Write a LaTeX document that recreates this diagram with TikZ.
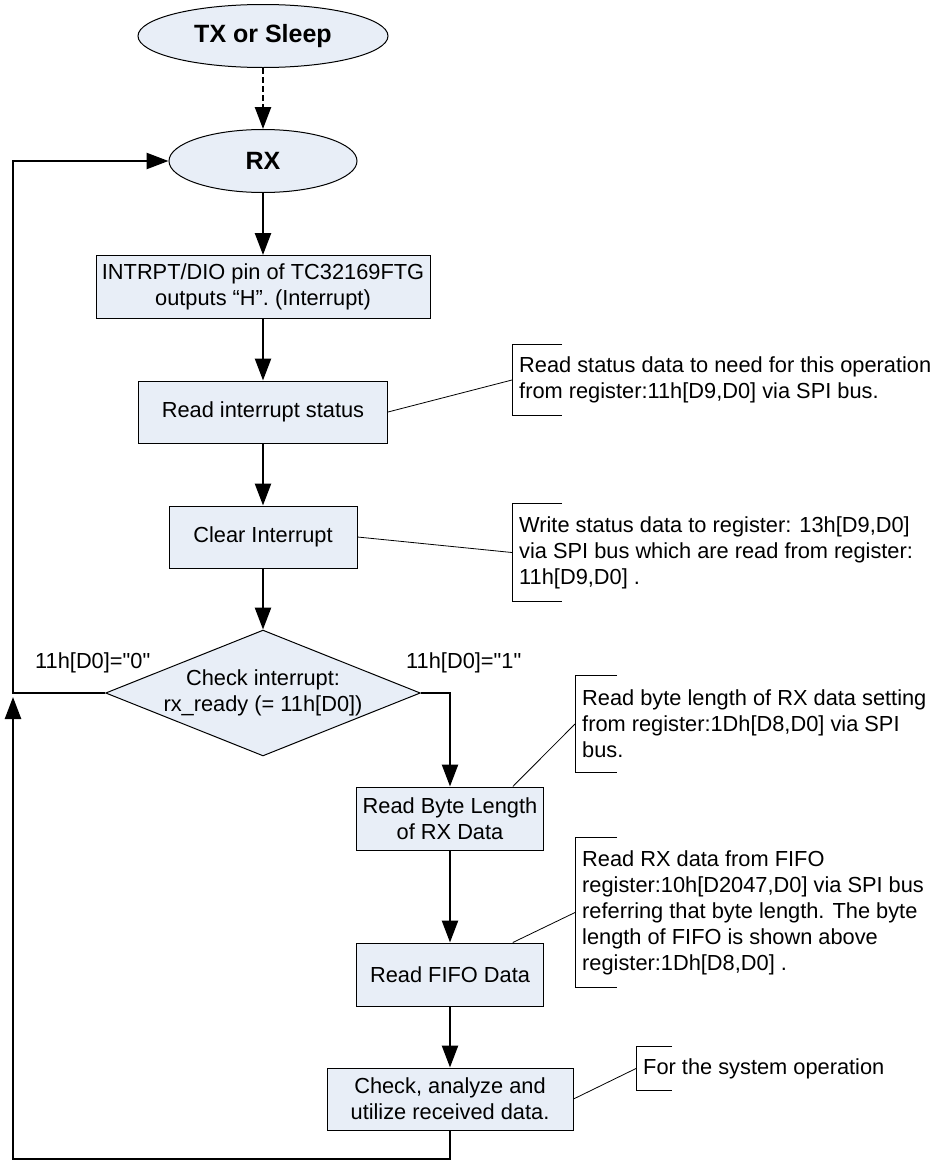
\documentclass[tikz,border=0pt]{standalone}
\usepackage{fontspec}
\setmainfont{Liberation Sans}[Ligatures=TeXOff]
\usepackage{tikz}
\usetikzlibrary{shapes,arrows.meta,positioning}
\definecolor{boxfill}{RGB}{232,238,247}
\newcommand{\notebracket}[2]{\draw[line width=1pt] ([xshift=#2]#1.north west) -- (#1.north west) -- (#1.south west) -- ([xshift=#2]#1.south west);}

\begin{document}
\begin{tikzpicture}[x=1pt,y=-1pt,
    font=\fontsize{21.8}{26}\selectfont,
    proc/.style={draw,line width=1pt,fill=boxfill,rectangle,align=center,inner sep=0pt},
    term/.style={draw,line width=1pt,fill=boxfill,ellipse,inner sep=0pt,font=\fontsize{25}{30}\selectfont\bfseries},
    decide/.style={draw,line width=1pt,fill=boxfill,diamond,aspect=2.5,inner sep=0pt,align=center},
    note/.style={anchor=west,align=left,inner xsep=7pt,inner ysep=0pt},
    lbl/.style={anchor=west,inner sep=0pt},
    flow/.style={line width=2.5pt,-{Triangle[length=22pt,width=16pt]}},
    lead/.style={line width=0.8pt}]
  \useasboundingbox (0,0) rectangle (941,1162);

  \node[term,minimum width=250pt,minimum height=63pt] (tx) at (263,36) {TX or Sleep};
  \node[term,minimum width=188pt,minimum height=63pt] (rx) at (263,161) {RX};
  \node[proc,minimum width=334pt,minimum height=63pt] (intr) at (263,287) {INTRPT/DIO pin of TC32169FTG\\outputs “H”. (Interrupt)};
  \node[proc,minimum width=249pt,minimum height=62pt] (ris) at (263,412) {Read interrupt status};
  \node[proc,minimum width=188pt,minimum height=62pt] (clr) at (263,537) {Clear Interrupt};
  \node[decide,minimum width=310pt,minimum height=123pt] (chk) at (263,693) {Check interrupt:\\rx\_ready (= 11h[D0])};
  \node[proc,minimum width=187pt,minimum height=63pt] (rbl) at (450,818.5) {Read Byte Length\\of RX Data};
  \node[proc,minimum width=187pt,minimum height=63pt] (fifo) at (450,974.5) {Read FIFO Data};
  \node[proc,minimum width=246pt,minimum height=62pt] (util) at (450,1099) {Check, analyze and\\utilize received data.};

  \node[lbl] (zero) at (35,663) {11h[D0]="0"};
  \node[lbl] (one) at (406,663) {11h[D0]="1"};

  \node[note,minimum height=70pt] (risnote) at (512,380) {Read status data to need for this operation\\from register:11h[D9,D0] via SPI bus.};
  \node[note,minimum height=97pt] (clrnote) at (512,552.5) {Write status data to register: 13h[D9,D0]\\via SPI bus which are read from register:\\11h[D9,D0] .};
  \node[note,minimum height=96pt] (rblnote) at (575,724) {Read byte length of RX data setting\\from register:1Dh[D8,D0] via SPI\\bus.};
  \node[note,minimum height=149pt] (fifonote) at (575,912.5) {Read RX data from FIFO\\register:10h[D2047,D0] via SPI bus\\referring that byte length. The byte\\length of FIFO is shown above\\register:1Dh[D8,D0] .};
  \node[note,minimum height=43pt] (utilnote) at (636,1068.5) {For the system operation};

  \notebracket{risnote}{50pt}
  \notebracket{clrnote}{50pt}
  \notebracket{rblnote}{42pt}
  \notebracket{fifonote}{42pt}
  \notebracket{utilnote}{36pt}

  \coordinate (loop) at (13,693);
  \coordinate (back) at (13,1159);
  \coordinate (backend) at (13,697);

  \draw[flow,dash pattern=on 6pt off 3pt] (tx) -- (rx);
  \draw[flow] (rx) -- (intr);
  \draw[flow] (intr) -- (ris);
  \draw[flow] (ris) -- (clr);
  \draw[flow] (clr) -- (chk);
  \draw[flow] (chk.east) -| (rbl.north);
  \draw[flow] (rbl) -- (fifo);
  \draw[flow] (fifo) -- (util);
  \draw[flow] (chk.west) -- (loop) |- (rx.west);
  \draw[flow] (util.south) |- (back) -- (backend);

  \draw[lead] (ris.east) -- (risnote.west);
  \draw[lead] (clr.east) -- (clrnote.west);
  \draw[lead] (rbl.27) -- (rblnote.west);
  \draw[lead] (fifo.27) -- (fifonote.west);
  \draw[lead] (util.east) -- (utilnote.west);
\end{tikzpicture}
\end{document}
